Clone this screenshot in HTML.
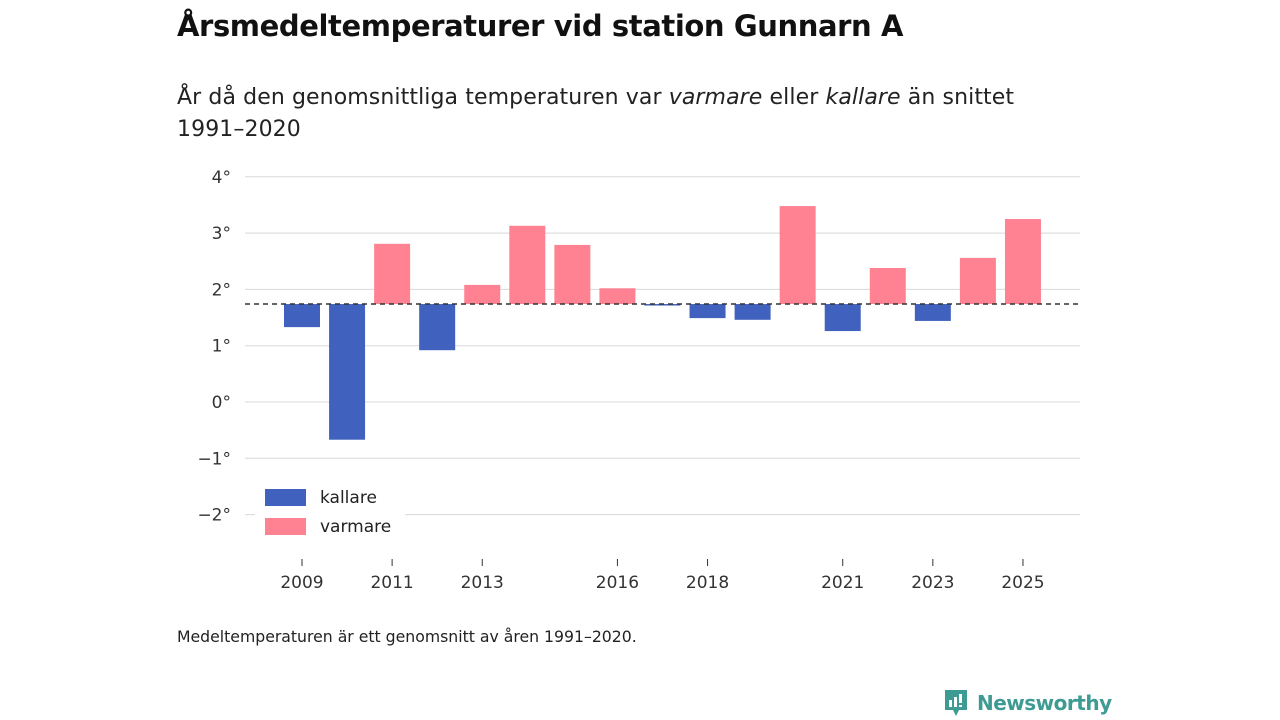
<!DOCTYPE html>
<html><head><meta charset="utf-8"><style>
body{margin:0;width:1280px;height:720px;background:#fff;font-family:"DejaVu Sans","Liberation Sans",sans-serif;color:#222;position:relative;overflow:hidden}
.t{position:absolute;left:177px;top:9px;font-size:29px;font-weight:bold;color:#111;letter-spacing:-0.4px}
.s{position:absolute;left:177px;top:82px;font-size:22px;line-height:32px;color:#222;width:880px;letter-spacing:0.1px}
.n{position:absolute;left:177px;top:627px;font-size:15.7px;color:#222}
.logo{position:absolute;left:943px;top:688px;display:flex;align-items:center;color:#3e9b93;font-size:20px;font-weight:bold;letter-spacing:-0.5px}
</style></head><body>
<div class="t">Årsmedeltemperaturer vid station Gunnarn A</div>
<div class="s">År då den genomsnittliga temperaturen var <i>varmare</i> eller <i>kallare</i> än snittet 1991–2020</div>
<svg id="c" width="1280" height="720" style="position:absolute;left:0;top:0"></svg>
<div class="n">Medeltemperaturen är ett genomsnitt av åren 1991–2020.</div>
<div class="logo"><svg width="26" height="30" viewBox="0 0 26 30"><path d="M2 2h22v20h-8l-3 6-3-6H2z" fill="#3e9b93"/><rect x="6" y="12" width="3" height="7" fill="#fff"/><rect x="11" y="9" width="3" height="10" fill="#fff"/><rect x="16" y="6" width="3" height="9" fill="#fff"/><rect x="16" y="17" width="3" height="2" fill="#fff"/></svg><span style="margin-left:8px">Newsworthy</span></div>
<script>
const years=[2009,2010,2011,2012,2013,2014,2015,2016,2017,2018,2019,2020,2021,2022,2023,2024,2025];
const temps=[1.33,-0.67,2.81,0.92,2.08,3.13,2.79,2.02,1.72,1.49,1.46,3.48,1.26,2.38,1.44,2.56,3.25];
const baseline=1.74;
const yTicks=[4,3,2,1,0,-1,-2];
const yTickLabels=["4°","3°","2°","1°","0°","−1°","−2°"];
const xLabelYears=[2009,2011,2013,2016,2018,2021,2023,2025];
const NS="http://www.w3.org/2000/svg";
const svg=document.getElementById('c');
const y=v=>402-v*56.3;
const x=yr=>302+(yr-2009)*45.06;
function mk(t,a){const e=document.createElementNS(NS,t);for(const k in a)e.setAttribute(k,a[k]);svg.appendChild(e);return e;}
yTicks.forEach((v,i)=>{
 const g=mk('line',{x1:245,x2:1080,y1:y(v),y2:y(v),stroke:'#d8d8d8','stroke-width':1});
 
 
 const t=mk('text',{x:231,y:y(v)+6,'text-anchor':'end','font-size':17,fill:'#333'});
 t.textContent=yTickLabels[i];
 
 
});
years.forEach((yr,i)=>{
 const v=temps[i];const top=Math.min(y(v),y(baseline)),h=Math.max(1.5,Math.abs(y(v)-y(baseline)));
 const r=mk('rect',{x:x(yr)-18,y:top,width:36,height:h,fill:v>=baseline?'#ff8293':'#4062be'});
 
 
});
const bl=mk('line',{x1:245,x2:1080,y1:y(baseline),y2:y(baseline),stroke:'#333','stroke-width':1.5,'stroke-dasharray':'5,4'});


xLabelYears.forEach(yr=>{
 const l=mk('line',{x1:x(yr),x2:x(yr),y1:559,y2:566,stroke:'#333'});
 
 
 const t=mk('text',{x:x(yr),y:588,'text-anchor':'middle','font-size':17,fill:'#333'});
 t.textContent=yr;
 
 
});
const bg=mk('rect',{x:255,y:482,width:150,height:60,fill:'#fff'});


[['kallare','#4062be',497],['varmare','#ff8293',526]].forEach(([n,c,yy])=>{
 const r=mk('rect',{x:265,y:yy-8,width:41,height:17,fill:c});
 
 
 const t=mk('text',{x:320,y:yy+6,'font-size':17,fill:'#222'});
 t.textContent=n;
 
 
});
</script>
</body></html>
